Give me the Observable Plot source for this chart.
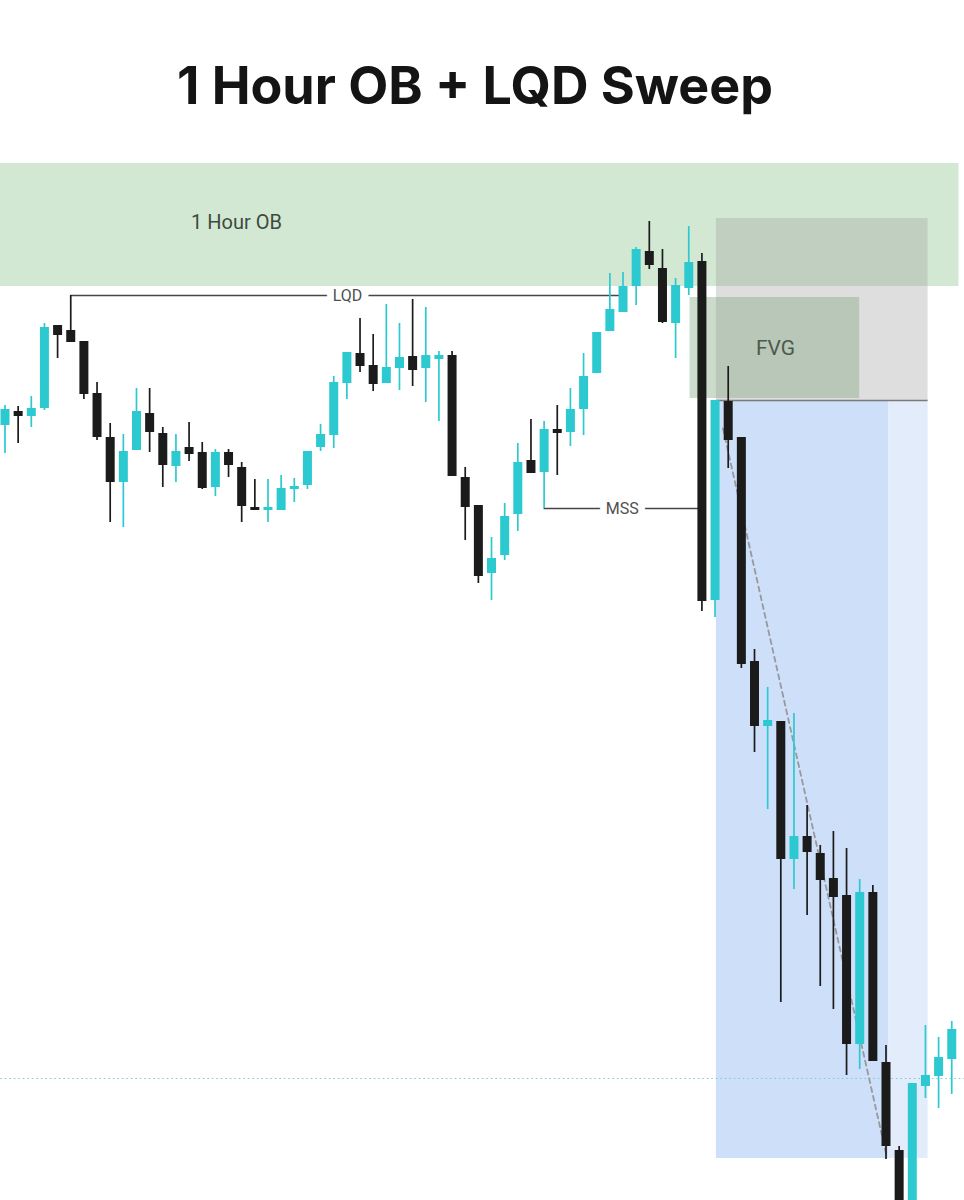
<!DOCTYPE html>
<html>
<head>
<meta charset="utf-8">
<script src="https://cdn.jsdelivr.net/npm/d3@7"></script>
<script src="https://cdn.jsdelivr.net/npm/@observablehq/plot@0.6"></script>
<style>
  html, body { margin: 0; padding: 0; background: #fff; overflow: hidden; }
  #title { position: relative; height: 160px; width: 964px; }
  #title span { position: absolute; top: 60px; left: 0; width: 950px; text-align: center;
    font: 700 52px Inter, "Open Sans", sans-serif; line-height: 52px; color: #141414; }
  #chart svg { display: block; overflow: hidden; }
</style>
</head>
<body>
<div id="title"><span>1 Hour OB + LQD Sweep</span></div>
<div id="chart"></div>
<script>
// Prices in arbitrary chart units (no axis is shown in the reference)
const candleOpen  = [775,789,784,792,875,870,859,807,763,718,750,787,767,734,753,748,713,748,733,693,690,690,711,715,753,765,817,847,835,817,832,844,832,841,845,723,695,627,645,686,740,728,771,768,791,827,869,888,914,949,932,877,912,939,600,799,763,539,474,479,341,364,347,322,305,156,308,138,50,-50,114,124,141];
const candleHigh  = [795,794,804,877,875,905,859,818,777,766,812,812,773,766,778,758,751,751,738,721,721,725,722,749,776,824,848,882,866,896,877,901,893,849,849,733,695,663,697,757,781,779,795,812,847,868,927,928,953,979,951,922,974,947,800,834,763,551,513,479,487,395,355,369,352,321,315,155,54,117,175,163,179];
const candleLow   = [747,757,773,790,842,858,801,760,678,673,750,748,713,718,739,711,704,723,678,690,678,690,698,711,749,752,801,828,809,817,810,814,798,779,724,660,617,600,640,669,727,692,725,754,765,827,869,888,895,931,877,842,905,589,583,732,532,448,391,198,311,285,214,191,125,131,139,41,-60,-60,102,92,106];
const candleClose = [791,784,792,873,865,858,806,763,718,749,789,768,735,749,746,712,748,735,694,690,693,712,714,749,766,818,848,834,816,833,843,830,845,845,724,693,624,642,684,738,727,771,767,791,824,868,891,914,951,935,878,915,938,599,800,760,536,474,480,341,364,348,320,303,156,308,139,54,-50,117,125,143,171];

// Zones: candle-index spans and price bounds
const obZone     = [{name: "1 Hour OB", i1: -1, i2: 72.55, lo: 914, hi: 1037}];
const greyZone   = [{name: "OB", i1: 54.1, i2: 70.2, lo: 800, hi: 982}];
const fvgZone    = [{name: "FVG", i1: 52.1, i2: 65, lo: 802, hi: 903}];
const targetZone = [{name: "target", i1: 54.1, i2: 67.2, lo: 42, hi: 800}];
const extZone    = [{name: "extension", i1: 67.2, i2: 70.2, lo: 42, hi: 800}];

// Levels
const entryLevel  = [{i1: 54.1, i2: 70.2, p: 800}];
const lqdLevel    = [{i1: 5, i2: 46.8, p: 905}];
const mssLevel    = [{i1: 41, i2: 53, p: 692}];
const targetLevel = [{i1: -1, i2: 74, p: 122}];
const projection  = [{i: 54.6, p: 772}, {i: 67.05, p: 44}];

// Labels
const zoneLabels  = [{text: "1 Hour OB", i: 17.6, p: 978}];
const fvgLabels   = [{text: "FVG", i: 58.6, p: 852}];
const lineLabels  = [{text: "LQD", i: 26.05, p: 905}, {text: "MSS", i: 46.95, p: 692}];

const candles = candleOpen.map((o, i) => ({
  i, open: o, high: candleHigh[i], low: candleLow[i], close: candleClose[i],
  up: candleClose[i] >= o
}));

const UP = "#2cc9d1", DOWN = "#1b1b1b";
const col = d => d.up ? UP : DOWN;

const chart = Plot.plot({
  width: 964,
  height: 1040,
  margin: 0,
  x: {type: "linear", domain: [-0.342, 72.97], axis: null},
  y: {domain: [0, 1040], axis: null},
  marks: [
    Plot.ruleY(lqdLevel, {x1: "i1", x2: "i2", y: "p", stroke: "#454545", strokeWidth: 1.5}),
    Plot.ruleY(mssLevel, {x1: "i1", x2: "i2", y: "p", stroke: "#454545", strokeWidth: 1.5}),
    Plot.text(lineLabels, {x: "i", y: "p", text: "text", fill: "#505050", fontSize: 16, fontFamily: "Roboto, sans-serif",
      stroke: "white", strokeWidth: 14, paintOrder: "stroke"}),
    Plot.rect(obZone, {x1: "i1", x2: "i2", y1: "lo", y2: "hi", fill: "#d3e8d3"}),
    Plot.rect(targetZone, {x1: "i1", x2: "i2", y1: "lo", y2: "hi", fill: "#cddff9"}),
    Plot.rect(extZone, {x1: "i1", x2: "i2", y1: "lo", y2: "hi", fill: "#e2ecfb"}),
    Plot.rect(greyZone, {x1: "i1", x2: "i2", y1: "lo", y2: "hi", fill: "#a0a0a0", fillOpacity: 0.35}),
    Plot.rect(fvgZone, {x1: "i1", x2: "i2", y1: "lo", y2: "hi", fill: "#7fa67f", fillOpacity: 0.4}),
    Plot.ruleY(entryLevel, {x1: "i1", x2: "i2", y: "p", stroke: "#7a7a7a", strokeWidth: 1.3}),
    Plot.ruleY(targetLevel, {x1: "i1", x2: "i2", y: "p", stroke: "#7ccbd3", strokeWidth: 1.2, strokeDasharray: "1.5,3"}),
    Plot.line(projection, {x: "i", y: "p", stroke: "#999999", strokeWidth: 1.8, strokeDasharray: "5,4"}),
    Plot.ruleX(candles, {x: "i", y1: "low", y2: "high", stroke: col, strokeWidth: 1.7}),
    Plot.ruleX(candles, {x: "i", y1: "open", y2: "close", stroke: col, strokeWidth: 9}),
    Plot.text(zoneLabels, {x: "i", y: "p", text: "text", fill: "#3f4a3f", fontSize: 20, fontFamily: "Roboto, sans-serif"}),
    Plot.text(fvgLabels, {x: "i", y: "p", text: "text", fill: "#4c5a4c", fontSize: 21, fontFamily: "Roboto, sans-serif"})
  ]
});
document.getElementById("chart").appendChild(chart);
</script>
</body>
</html>
